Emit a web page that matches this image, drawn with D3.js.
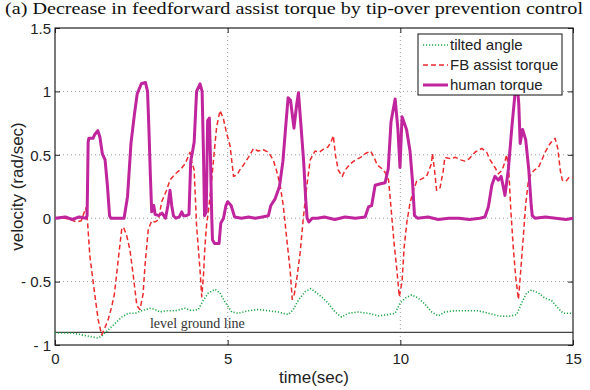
<!DOCTYPE html>
<html>
<head>
<meta charset="utf-8">
<script src="https://cdn.jsdelivr.net/npm/d3@7/dist/d3.min.js"></script>
<style>
  html, body { margin: 0; padding: 0; background: #fff; }
  svg { display: block; }
</style>
</head>
<body>
<svg id="chart" width="590" height="390"></svg>
<script>
// ---- data: [time (sec), value] ----
const tiltedAngle = [
  [0,-0.905],[0.5,-0.905],[0.96,-0.93],[1.25,-0.945],[1.35,-0.93],[1.54,-0.88],[1.74,-0.83],
  [1.93,-0.78],[2.12,-0.75],[2.32,-0.75],[2.51,-0.73],[2.75,-0.71],[2.9,-0.72],[3.04,-0.74],
  [3.2,-0.73],[3.48,-0.73],[3.77,-0.71],[3.96,-0.73],[4.15,-0.72],[4.3,-0.645],[4.44,-0.59],
  [4.63,-0.56],[4.78,-0.59],[4.92,-0.66],[5.12,-0.74],[5.31,-0.75],[5.6,-0.73],[5.88,-0.72],
  [6.18,-0.73],[6.47,-0.74],[6.76,-0.76],[6.9,-0.72],[7.05,-0.645],[7.24,-0.58],[7.41,-0.555],
  [7.53,-0.58],[7.72,-0.62],[7.91,-0.67],[8.11,-0.74],[8.3,-0.78],[8.49,-0.75],[8.78,-0.74],
  [9.07,-0.75],[9.36,-0.77],[9.65,-0.76],[9.85,-0.75],[9.99,-0.67],[10.14,-0.63],[10.33,-0.605],
  [10.52,-0.63],[10.72,-0.68],[10.91,-0.74],[11.1,-0.77],[11.29,-0.74],[11.58,-0.73],[11.9,-0.73],
  [12.26,-0.73],[12.55,-0.75],[12.84,-0.77],[13.13,-0.775],[13.37,-0.76],[13.51,-0.67],[13.66,-0.59],
  [13.8,-0.566],[14.0,-0.59],[14.19,-0.63],[14.38,-0.65],[14.57,-0.71],[14.72,-0.75],[15,-0.75]
];

const fbAssistTorque = [
  [0,0],[0.29,0],[0.44,-0.01],[0.63,-0.03],[0.76,-0.02],[0.89,0.08],[0.93,0.02],[1.01,-0.30],
  [1.16,-0.62],[1.25,-0.80],[1.35,-0.92],[1.45,-0.86],[1.54,-0.80],[1.64,-0.70],[1.72,-0.6],
  [1.83,-0.33],[1.93,-0.09],[1.98,-0.07],[2.07,-0.13],[2.17,-0.25],[2.27,-0.46],[2.37,-0.69],
  [2.46,-0.72],[2.55,-0.6],[2.61,-0.36],[2.70,-0.09],[2.8,-0.02],[2.9,-0.03],[3.0,-0.01],
  [3.09,0.13],[3.23,0.22],[3.33,0.30],[3.48,0.35],[3.62,0.38],[3.77,0.43],[3.91,0.52],[3.96,0.45],
  [4.03,0.38],[4.1,-0.06],[4.2,-0.41],[4.25,-0.62],[4.3,-0.45],[4.34,-0.23],[4.39,-0.05],
  [4.44,0.05],[4.52,0.25],[4.59,0.46],[4.68,0.72],[4.78,0.85],[4.88,0.78],[4.97,0.67],[5.07,0.57],
  [5.17,0.33],[5.27,0.34],[5.35,0.38],[5.46,0.42],[5.6,0.48],[5.75,0.55],[5.88,0.53],[6.03,0.54],
  [6.18,0.52],[6.32,0.46],[6.42,0.37],[6.52,0.26],[6.61,0.10],[6.71,-0.16],[6.81,-0.41],
  [6.87,-0.64],[6.93,-0.6],[7.0,-0.48],[7.1,-0.27],[7.19,0.0],[7.29,0.25],[7.39,0.46],[7.53,0.53],
  [7.65,0.52],[7.8,0.55],[7.9,0.56],[7.99,0.60],[8.06,0.65],[8.12,0.50],[8.2,0.38],[8.32,0.33],
  [8.4,0.38],[8.56,0.43],[8.7,0.46],[8.85,0.48],[8.99,0.51],[9.14,0.53],[9.24,0.48],[9.33,0.42],
  [9.47,0.39],[9.56,0.36],[9.66,0.30],[9.75,0.02],[9.82,-0.2],[9.9,-0.41],[9.97,-0.62],
  [10.05,-0.5],[10.11,-0.23],[10.19,-0.03],[10.28,0.12],[10.38,0.22],[10.47,0.29],[10.62,0.31],
  [10.76,0.33],[10.9,0.43],[10.93,0.51],[10.99,0.38],[11.05,0.22],[11.15,0.24],[11.24,0.37],
  [11.29,0.48],[11.44,0.47],[11.6,0.48],[11.75,0.46],[11.87,0.45],[12.0,0.47],[12.16,0.52],
  [12.36,0.55],[12.5,0.52],[12.6,0.46],[12.74,0.40],[12.84,0.35],[12.95,0.38],[13.01,0.43],
  [13.08,0.50],[13.14,0.38],[13.2,0.06],[13.27,-0.23],[13.34,-0.46],[13.42,-0.64],[13.49,-0.4],
  [13.56,-0.15],[13.63,0.11],[13.71,0.30],[13.79,0.35],[13.88,0.38],[14.0,0.40],[14.1,0.46],
  [14.19,0.52],[14.34,0.59],[14.48,0.63],[14.56,0.55],[14.63,0.38],[14.69,0.30],[14.79,0.29],
  [14.88,0.32],[15,0.32]
];

const humanTorque = [
  [0,0],[0.3,0.01],[0.5,-0.01],[0.7,0.01],[0.9,0],[0.93,0.02],[0.96,0.6],[0.98,0.63],[1.1,0.63],
  [1.15,0.66],[1.24,0.69],[1.3,0.64],[1.37,0.51],[1.45,0.46],[1.52,0.25],[1.58,0.02],[1.62,0],
  [1.8,0],[2.0,0],[2.03,0.05],[2.1,0.17],[2.2,0.59],[2.3,0.82],[2.38,0.98],[2.5,1.06],[2.62,1.07],
  [2.68,1.0],[2.72,0.7],[2.76,0.35],[2.8,0.05],[2.86,0.1],[2.9,0.03],[3.0,0.02],[3.1,0.04],
  [3.2,0.0],[3.27,0.1],[3.33,0.22],[3.38,0.1],[3.43,0.02],[3.5,0.0],[3.6,0.01],[3.67,0.05],
  [3.72,0.02],[3.8,0.02],[3.88,0.03],[3.93,0.45],[3.98,0.52],[4.03,0.6],[4.1,1.0],[4.2,1.06],
  [4.26,1.0],[4.3,0.5],[4.33,0.02],[4.38,0.05],[4.42,0.77],[4.47,0.79],[4.5,0.5],[4.54,0.0],
  [4.56,-0.17],[4.62,-0.2],[4.75,-0.2],[4.8,-0.04],[4.88,0.0],[4.95,0.1],[5.0,0.13],[5.1,0.1],
  [5.2,0.01],[5.4,0.0],[5.6,0.01],[5.8,0.0],[6.0,0.01],[6.18,0.02],[6.25,0.1],[6.37,0.15],
  [6.5,0.25],[6.6,0.45],[6.68,0.72],[6.75,0.95],[6.82,0.93],[6.92,0.71],[7.0,0.9],[7.05,0.99],
  [7.12,0.74],[7.2,0.45],[7.26,0.15],[7.3,0.0],[7.35,-0.03],[7.45,0.0],[7.6,0.0],[7.8,0.01],
  [8.1,-0.01],[8.4,0.01],[8.7,0.0],[8.98,0.01],[9.08,0.09],[9.17,0.1],[9.27,0.26],[9.4,0.27],
  [9.56,0.28],[9.65,0.39],[9.73,0.76],[9.85,0.94],[9.93,0.7],[9.99,0.40],[10.05,0.8],[10.18,0.7],
  [10.28,0.53],[10.35,0.3],[10.41,0.02],[10.5,0.0],[10.8,0.01],[11.1,-0.01],[11.4,0.0],[11.7,0.0],
  [12.0,-0.01],[12.3,0.0],[12.45,0.01],[12.55,0.09],[12.65,0.26],[12.74,0.33],[12.84,0.3],
  [12.92,0.33],[13.03,0.18],[13.13,0.39],[13.23,0.72],[13.32,0.98],[13.37,1.11],[13.43,0.9],
  [13.47,0.59],[13.54,0.70],[13.63,0.62],[13.72,0.38],[13.79,0.1],[13.82,0.02],[13.9,0.0],
  [14.2,0.01],[14.5,0.0],[14.8,-0.01],[15,0.0]
];

const levelGround = -0.9;
const xTicks = [0, 5, 10, 15];
const yTicks = [-1, -0.5, 0, 0.5, 1, 1.5];
const yTickLabels = ["- 1", "- 0.5", "0", "0.5", "1", "1.5"];
const legendNames = ["tilted angle", "FB assist torque", "human torque"];

// ---- layout ----
const svg = d3.select("#chart");
const margin = { left: 55, right: 17, top: 28, bottom: 45 };
const W = 590, H = 390;
const x = d3.scaleLinear().domain([0, 15]).range([margin.left, W - margin.right]);
const y = d3.scaleLinear().domain([-1, 1.5]).range([H - margin.bottom, margin.top]);

const sans = "'Liberation Sans', Arial, sans-serif";
const serif = "'Liberation Serif', 'Times New Roman', serif";

// title
svg.append("text")
  .attr("x", 5).attr("y", 14)
  .attr("font-family", serif).attr("font-size", 16)
  .attr("textLength", 578).attr("lengthAdjust", "spacingAndGlyphs")
  .attr("fill", "#111")
  .text("(a) Decrease in feedforward assist torque by tip-over prevention control");

// grid
const grid = svg.append("g").attr("stroke", "#999").attr("stroke-width", 1)
  .attr("stroke-dasharray", "1,3");
[5, 10].forEach(t => grid.append("line")
  .attr("x1", x(t)).attr("x2", x(t)).attr("y1", y(1.5)).attr("y2", y(-1)));
[-0.5, 0, 0.5, 1].forEach(v => grid.append("line")
  .attr("x1", x(0)).attr("x2", x(15)).attr("y1", y(v)).attr("y2", y(v)));

// level ground line
svg.append("line")
  .attr("x1", x(0)).attr("x2", x(15)).attr("y1", y(levelGround)).attr("y2", y(levelGround))
  .attr("stroke", "#444").attr("stroke-width", 1.3);
svg.append("text")
  .attr("x", x(2.75)).attr("y", y(levelGround) - 4)
  .attr("font-family", serif).attr("font-size", 14).attr("fill", "#333")
  .text("level ground line");

// axes (MATLAB-style inward ticks on every side)
const axB = d3.axisBottom(x).tickValues(xTicks).tickSize(-5).tickPadding(8).tickFormat(d3.format("d"));
const axT = d3.axisTop(x).tickValues(xTicks).tickSize(-5).tickFormat("");
const axL = d3.axisLeft(y).tickValues(yTicks).tickSize(-5).tickPadding(4)
  .tickFormat((d, i) => yTickLabels[i]);
const axR = d3.axisRight(y).tickValues(yTicks).tickSize(-5).tickFormat("");

function styleAxis(g) {
  g.select(".domain").remove();
  g.selectAll("line").attr("stroke", "#222");
  g.selectAll("text").attr("font-family", sans).attr("font-size", 15).attr("fill", "#222");
}
svg.append("g").attr("transform", `translate(0,${y(-1)})`).call(axB).call(styleAxis);
svg.append("g").attr("transform", `translate(0,${y(1.5)})`).call(axT).call(styleAxis);
svg.append("g").attr("transform", `translate(${x(0)},0)`).call(axL).call(styleAxis)
  .selectAll("text").attr("dy", "0.35em");
svg.append("g").attr("transform", `translate(${x(15)},0)`).call(axR).call(styleAxis);

// frame
svg.append("rect")
  .attr("x", x(0)).attr("y", y(1.5))
  .attr("width", x(15) - x(0)).attr("height", y(-1) - y(1.5))
  .attr("fill", "none").attr("stroke", "#222").attr("stroke-width", 1.2);

// axis titles
svg.append("text")
  .attr("x", (x(0) + x(15)) / 2).attr("y", 383)
  .attr("text-anchor", "middle")
  .attr("font-family", sans).attr("font-size", 17).attr("fill", "#222")
  .text("time(sec)");
svg.append("text")
  .attr("transform", `translate(23,${(y(1.5) + y(-1)) / 2}) rotate(-90)`)
  .attr("text-anchor", "middle")
  .attr("font-family", sans).attr("font-size", 17).attr("fill", "#222")
  .text("velocity (rad/sec)");

// series
const line = d3.line().x(d => x(d[0])).y(d => y(d[1]));
const plot = svg.append("g");
const styles = [
  { data: tiltedAngle, color: "#22a84a", width: 1.6, dash: "1.2,1.8" },
  { data: fbAssistTorque, color: "#ec2a2c", width: 1.5, dash: "5,3" },
  { data: humanTorque, color: "#c0259d", width: 3, dash: null }
];
styles.forEach(s => {
  plot.append("path").datum(s.data)
    .attr("d", line)
    .attr("fill", "none")
    .attr("stroke", s.color)
    .attr("stroke-width", s.width)
    .attr("stroke-linejoin", "round")
    .attr("stroke-dasharray", s.dash);
});

// legend
const lg = svg.append("g");
lg.append("rect")
  .attr("x", 418).attr("y", 34).attr("width", 144).attr("height", 61)
  .attr("fill", "#fff").attr("stroke", "#111").attr("stroke-width", 1);
legendNames.forEach((name, i) => {
  const s = styles[i];
  const yy = 45 + i * 20;
  lg.append("line")
    .attr("x1", 423).attr("x2", 448).attr("y1", yy).attr("y2", yy)
    .attr("stroke", s.color).attr("stroke-width", s.width)
    .attr("stroke-dasharray", s.dash);
  lg.append("text")
    .attr("x", 450).attr("y", yy).attr("dy", "0.35em")
    .attr("font-family", sans).attr("font-size", 15).attr("fill", "#222")
    .text(name);
});
</script>
</body>
</html>
